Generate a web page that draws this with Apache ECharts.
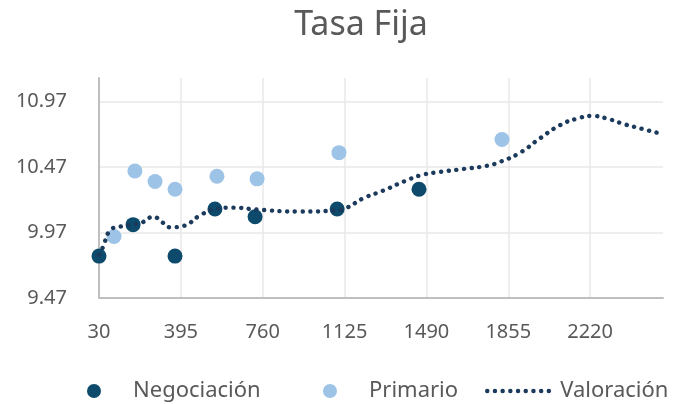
<!DOCTYPE html>
<html>
<head>
<meta charset="utf-8">
<script src="https://cdn.jsdelivr.net/npm/echarts@6/dist/echarts.min.js"></script>
<style>
  html, body { margin: 0; padding: 0; background: #fff; }
  #chart { width: 679px; height: 404px; }
</style>
</head>
<body>
<div id="chart"></div>
<script>
'use strict';

// Negociación (puntos oscuros)
const negDias = [30, 182, 369, 547, 726, 1092, 1457];
const negTasa = [9.79, 10.03, 9.79, 10.15, 10.09, 10.15, 10.30];

// Primario (puntos claros)
const primDias = [97, 190, 280, 369, 556, 735, 1100, 1827];
const primTasa = [9.94, 10.44, 10.36, 10.30, 10.40, 10.38, 10.58, 10.68];

// Valoración (curva punteada)
const valDias = [30, 48, 79, 124, 180, 226, 271, 315, 347, 405, 480, 547, 628, 735, 927, 1092,
    1136, 1207, 1297, 1404, 1471, 1538, 1654, 1761, 1819, 1908, 1997, 2086, 2162, 2229, 2296,
    2367, 2456, 2545];
const valTasa = [9.80, 9.86, 9.985, 10.015, 10.03, 10.05, 10.09, 10.045, 10.01, 10.02, 10.10, 10.15,
    10.16, 10.145, 10.13, 10.14, 10.16, 10.23, 10.29, 10.37, 10.41, 10.43, 10.455, 10.48, 10.51,
    10.58, 10.69, 10.79, 10.84, 10.86, 10.84, 10.80, 10.76, 10.72];

const legendNames = ['Negociación', 'Primario', 'Valoración'];

function pares(xs, ys) {
    return xs.map(function (x, i) { return [x, ys[i]]; });
}

const fuente = '"Noto Sans", "Open Sans", sans-serif';
const gris = '#595959';
const punteado = { color: '#1b3a5c', width: 4.4, type: [0.1, 7.6], cap: 'round' };

// una leyenda por serie para colocar cada una como en la imagen
function leyenda(item, left) {
    return {
        data: [item],
        left: left,
        top: 375,
        itemWidth: 68,
        itemHeight: 14,
        selectedMode: false,
        textStyle: { fontFamily: fuente, fontSize: 22, color: gris }
    };
}

let myChart = echarts.init(document.getElementById('chart'));
myChart.setOption({
    animation: false,
    title: {
        text: 'Tasa Fija',
        left: 356,
        textAlign: 'center',
        top: 3,
        textStyle: { fontFamily: fuente, fontSize: 34, fontWeight: 'normal', color: gris }
    },
    grid: { left: 99, right: 16, top: 78, bottom: 106 },
    legend: [
        leyenda({ name: legendNames[0] }, 82),
        leyenda({ name: legendNames[1] }, 318),
        leyenda({ name: legendNames[2], itemStyle: { opacity: 0 }, lineStyle: punteado }, 480)
    ],
    xAxis: {
        type: 'value',
        min: 30,
        max: 2545,
        interval: 365,
        axisLine: { lineStyle: { color: '#bfbfbf', width: 2 } },
        axisTick: { show: false },
        axisLabel: {
            margin: 24, showMaxLabel: false,
            fontFamily: fuente, fontSize: 20, color: gris,
            formatter: function (v) { return String(v); }
        },
        splitLine: {
            lineStyle: {
                color: ['#e8e8e8', '#e8e8e8', '#e8e8e8', '#e8e8e8', '#e8e8e8', '#e8e8e8', '#e8e8e8', 'rgba(0,0,0,0)'],
                width: 1.5
            }
        }
    },
    yAxis: {
        type: 'value',
        min: 9.47,
        max: 11.15,
        interval: 0.5,
        axisLine: { show: true, lineStyle: { color: '#bfbfbf', width: 2 } },
        axisTick: { show: false },
        axisLabel: {
            margin: 32, showMaxLabel: false,
            fontFamily: fuente, fontSize: 20, color: gris,
            formatter: function (v) { return v.toFixed(2); }
        },
        splitLine: {
            lineStyle: {
                color: ['#e8e8e8', '#e8e8e8', '#e8e8e8', '#e8e8e8', 'rgba(0,0,0,0)'],
                width: 1.5
            }
        }
    },
    series: [
        {
            name: 'Valoración',
            type: 'line',
            smooth: true,
            showSymbol: false,
            symbol: 'none',
            lineStyle: punteado,
            itemStyle: { color: '#1b3a5c' },
            data: pares(valDias, valTasa)
        },
        {
            name: 'Negociación',
            type: 'scatter',
            symbolSize: 15,
            itemStyle: { color: '#0d4a6b', opacity: 1 },
            data: pares(negDias, negTasa)
        },
        {
            name: 'Primario',
            type: 'scatter',
            symbolSize: 15,
            itemStyle: { color: '#9dc3e6', opacity: 1 },
            data: pares(primDias, primTasa)
        }
    ]
});
</script>
</body>
</html>
